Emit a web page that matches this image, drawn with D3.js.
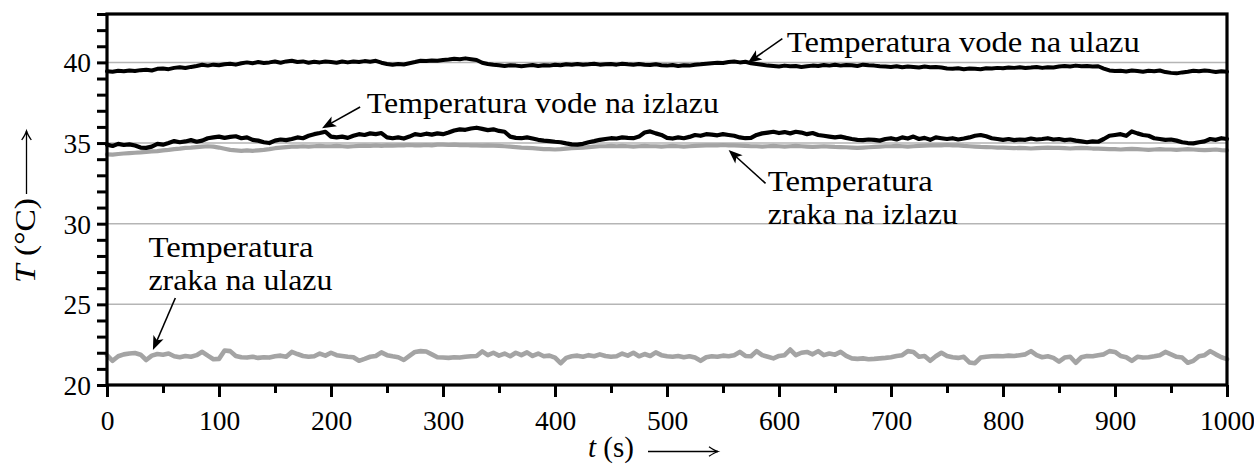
<!DOCTYPE html>
<html>
<head>
<meta charset="utf-8">
<script src="https://cdn.jsdelivr.net/npm/d3@7"></script>
<style>
  body { margin: 0; background: #fff; }
  svg { display: block; }
  text { font-family: "Liberation Serif", "DejaVu Serif", serif; fill: #000; }
</style>
</head>
<body>
<svg id="chart" width="1254" height="464"></svg>
<script>
// Samples every 5 s from 0 s to 1000 s (201 readings per series), in °C.
const sampleStep = 5;

// Water temperature at the inlet
const waterIn = [
  39.45, 39.42, 39.48, 39.45, 39.50, 39.47, 39.52, 39.55, 39.50, 39.60,
  39.62, 39.58, 39.66, 39.70, 39.65, 39.72, 39.78, 39.85, 39.80, 39.86,
  39.82, 39.88, 39.92, 39.86, 39.95, 40.00, 39.95, 40.02, 39.96, 40.00,
  40.05, 39.98, 40.06, 40.10, 40.02, 40.06, 39.98, 40.04, 40.00, 40.05,
  40.02, 39.98, 40.05, 40.00, 40.06, 40.02, 40.08, 40.04, 40.10, 39.98,
  39.90, 39.85, 39.90, 39.87, 39.95, 40.02, 40.10, 40.08, 40.12, 40.10,
  40.15, 40.18, 40.22, 40.20, 40.25, 40.20, 40.15, 39.98, 39.90, 39.85,
  39.82, 39.78, 39.82, 39.80, 39.76, 39.80, 39.84, 39.78, 39.82, 39.80,
  39.85, 39.82, 39.88, 39.86, 39.90, 39.85, 39.88, 39.92, 39.86, 39.88,
  39.90, 39.86, 39.92, 39.88, 39.85, 39.90, 39.86, 39.84, 39.88, 39.82,
  39.80, 39.84, 39.78, 39.82, 39.80, 39.85, 39.88, 39.92, 39.95, 39.98,
  39.96, 40.02, 40.05, 40.00, 40.04, 39.95, 39.90, 39.85, 39.80, 39.78,
  39.75, 39.80, 39.76, 39.78, 39.72, 39.76, 39.80, 39.78, 39.84, 39.80,
  39.85, 39.80, 39.84, 39.82, 39.78, 39.86, 39.82, 39.80, 39.76, 39.74,
  39.72, 39.76, 39.70, 39.74, 39.72, 39.68, 39.74, 39.70, 39.72, 39.68,
  39.62, 39.60, 39.64, 39.58, 39.62, 39.60, 39.58, 39.64, 39.62, 39.66,
  39.64, 39.68, 39.66, 39.70, 39.65, 39.68, 39.72, 39.66, 39.70, 39.68,
  39.74, 39.78, 39.75, 39.80, 39.76, 39.78, 39.74, 39.76, 39.62, 39.50,
  39.46, 39.48, 39.44, 39.50, 39.46, 39.42, 39.48, 39.45, 39.50, 39.40,
  39.35, 39.32, 39.38, 39.42, 39.48, 39.45, 39.50, 39.46, 39.40, 39.45,
  39.42
];

// Water temperature at the outlet
const waterOut = [
  34.90, 34.82, 34.95, 34.88, 34.92, 34.85, 34.72, 34.70, 34.78, 34.95,
  34.90, 35.00, 35.12, 35.05, 35.10, 35.18, 35.08, 35.15, 35.30, 35.35,
  35.40, 35.32, 35.38, 35.42, 35.30, 35.35, 35.20, 35.15, 35.05, 35.00,
  35.15, 35.22, 35.18, 35.25, 35.35, 35.30, 35.45, 35.55, 35.62, 35.70,
  35.40, 35.35, 35.40, 35.32, 35.45, 35.55, 35.50, 35.60, 35.55, 35.62,
  35.35, 35.30, 35.35, 35.28, 35.40, 35.55, 35.50, 35.58, 35.52, 35.60,
  35.55, 35.65, 35.78, 35.85, 35.82, 35.90, 35.95, 35.88, 35.80, 35.85,
  35.75, 35.70, 35.40, 35.32, 35.30, 35.35, 35.28, 35.20, 35.15, 35.12,
  35.08, 35.05, 34.98, 34.92, 34.90, 34.95, 35.05, 35.12, 35.20, 35.25,
  35.30, 35.28, 35.35, 35.32, 35.30, 35.40, 35.65, 35.72, 35.60, 35.50,
  35.32, 35.28, 35.35, 35.30, 35.38, 35.50, 35.45, 35.55, 35.52, 35.48,
  35.55, 35.50, 35.45, 35.35, 35.30, 35.32, 35.50, 35.60, 35.65, 35.70,
  35.62, 35.68, 35.60, 35.70, 35.65, 35.55, 35.62, 35.50, 35.45, 35.40,
  35.35, 35.40, 35.32, 35.25, 35.20, 35.18, 35.22, 35.20, 35.15, 35.25,
  35.30, 35.22, 35.35, 35.28, 35.40, 35.25, 35.32, 35.20, 35.35, 35.30,
  35.25, 35.30, 35.22, 35.28, 35.35, 35.45, 35.50, 35.42, 35.30, 35.25,
  35.20, 35.25, 35.18, 35.22, 35.20, 35.28, 35.22, 35.25, 35.30, 35.22,
  35.25, 35.18, 35.22, 35.15, 35.10, 35.05, 35.10, 35.08, 35.25, 35.45,
  35.50, 35.55, 35.45, 35.72, 35.60, 35.50, 35.45, 35.30, 35.25, 35.20,
  35.22, 35.15, 35.05, 35.00, 34.98, 35.05, 35.10, 35.25, 35.20, 35.30,
  35.25
];

// Air temperature at the outlet
const airOut = [
  34.30, 34.28, 34.32, 34.35, 34.38, 34.40, 34.42, 34.45, 34.48, 34.50,
  34.55, 34.58, 34.62, 34.65, 34.70, 34.72, 34.75, 34.78, 34.80, 34.78,
  34.72, 34.65, 34.58, 34.55, 34.52, 34.55, 34.52, 34.55, 34.58, 34.62,
  34.68, 34.72, 34.75, 34.78, 34.78, 34.80, 34.78, 34.80, 34.82, 34.80,
  34.80, 34.82, 34.80, 34.78, 34.80, 34.82, 34.84, 34.82, 34.85, 34.83,
  34.85, 34.84, 34.86, 34.85, 34.88, 34.86, 34.85, 34.88, 34.86, 34.90,
  34.90, 34.88, 34.90, 34.87, 34.88, 34.86, 34.85, 34.84, 34.86, 34.84,
  34.82, 34.80, 34.78, 34.75, 34.72, 34.70, 34.68, 34.65, 34.62, 34.62,
  34.60, 34.62, 34.65, 34.68, 34.70, 34.72, 34.75, 34.78, 34.80, 34.80,
  34.82, 34.80, 34.82, 34.80, 34.78, 34.80, 34.82, 34.80, 34.80, 34.78,
  34.80, 34.82, 34.80, 34.78, 34.80, 34.82, 34.84, 34.86, 34.85, 34.86,
  34.88, 34.86, 34.85, 34.84, 34.82, 34.80, 34.80, 34.78, 34.80, 34.82,
  34.80, 34.78, 34.80, 34.82, 34.80, 34.78, 34.76, 34.78, 34.80, 34.78,
  34.76, 34.75, 34.74, 34.72, 34.70, 34.72, 34.74, 34.76, 34.78, 34.80,
  34.80, 34.82, 34.80, 34.78, 34.80, 34.82, 34.84, 34.85, 34.86, 34.85,
  34.88, 34.86, 34.85, 34.82, 34.80, 34.78, 34.76, 34.75, 34.74, 34.72,
  34.72, 34.70, 34.68, 34.70, 34.68, 34.66, 34.68, 34.70, 34.72, 34.70,
  34.70, 34.68, 34.66, 34.68, 34.70, 34.68, 34.66, 34.65, 34.64, 34.62,
  34.62, 34.60, 34.62, 34.64, 34.62, 34.60, 34.58, 34.60, 34.62, 34.60,
  34.60, 34.58, 34.60, 34.62, 34.60, 34.58, 34.56, 34.58, 34.60, 34.56,
  34.55
];

// Air temperature at the inlet
const airIn = [
  21.85, 21.50, 21.78, 21.90, 21.95, 21.98, 21.88, 21.55, 21.82, 21.92,
  21.88, 21.95, 21.78, 21.72, 21.80, 21.75, 21.85, 22.06, 21.82, 21.60,
  21.62, 22.14, 22.10, 21.80, 21.72, 21.70, 21.75, 21.68, 21.72, 21.70,
  21.78, 21.82, 21.75, 22.05, 21.92, 21.80, 21.75, 21.78, 21.95, 21.82,
  22.00, 21.85, 21.80, 21.75, 21.72, 21.50, 21.62, 21.75, 21.80, 22.02,
  21.85, 21.78, 21.72, 21.55, 21.80, 22.05, 22.10, 22.08, 21.90, 21.72,
  21.70, 21.68, 21.72, 21.70, 21.75, 21.78, 21.80, 22.08, 21.85, 22.00,
  21.82, 21.95, 21.78, 22.00, 21.85, 22.02, 21.80, 21.95, 21.78, 21.82,
  21.70, 21.35, 21.68, 21.78, 21.82, 21.75, 21.85, 21.78, 21.90, 21.80,
  21.75, 21.78, 21.95, 21.82, 22.00, 21.78, 21.92, 21.80, 22.02, 21.85,
  21.78, 21.75, 21.80, 21.72, 21.78, 21.70, 21.50, 21.72, 21.78, 21.75,
  21.82, 21.78, 21.85, 22.05, 21.80, 21.78, 22.10, 21.85, 21.75, 21.65,
  21.80, 21.85, 22.20, 21.85, 22.00, 22.05, 21.90, 22.10, 21.85, 21.95,
  21.88, 22.05, 21.80, 21.65, 21.62, 21.65, 21.60, 21.62, 21.65, 21.68,
  21.72, 21.80, 21.85, 22.10, 22.05, 21.75, 21.80, 21.50, 21.78, 22.00,
  21.80, 21.72, 21.68, 21.75, 21.40, 21.35, 21.70, 21.75, 21.78, 21.80,
  21.78, 21.82, 21.80, 21.85, 21.90, 22.10, 21.85, 21.72, 21.78, 21.68,
  21.45, 21.70, 21.75, 21.38, 21.72, 21.80, 21.78, 21.85, 21.90, 22.10,
  22.05, 21.80, 21.72, 21.50, 21.75, 21.70, 21.72, 21.78, 21.85, 22.05,
  21.90, 21.75, 21.70, 21.38, 21.50, 21.78, 21.85, 22.10, 21.90, 21.72,
  21.60
];

// Axis ticks
const xTickLabels = [0, 100, 200, 300, 400, 500, 600, 700, 800, 900, 1000];
const xMinorTicks = [50, 150, 250, 350, 450, 550, 650, 750, 850, 950];
const yTickLabels = [20, 25, 30, 35, 40];
const yMinorTicks = [21, 22, 23, 24, 26, 27, 28, 29, 31, 32, 33, 34, 36, 37, 38, 39, 41, 42, 43];
const gridValues = [25, 30, 35, 40];

// Callouts: arrow tip / tail in data units, text lines anchored at (t, T)
const callouts = [
  { tip: [572, 39.97], tail: [603, 41.47], at: [607, 40.64], lines: ["Temperatura vode na ulazu"], widths: [353] },
  { tip: [192, 35.92], tail: [226, 37.23], at: [232, 36.86], lines: ["Temperatura vode na izlazu"], widths: [352] },
  { tip: [555, 34.57], tail: [588, 32.50], at: [590, 32.03], lines: ["Temperatura", "zraka na izlazu"], widths: [165, 190] },
  { tip: [41, 22.17], tail: [61, 25.39], at: [37, 27.94], lines: ["Temperatura", "zraka na ulazu"], widths: [165, 184] }
];

const FONT = "'Liberation Serif', 'DejaVu Serif', serif";
const W = 1254, H = 464;
const margin = { top: 14, right: 27, bottom: 79, left: 107 };
const svg = d3.select("#chart");

const x = d3.scaleLinear().domain([0, 1000]).range([margin.left, W - margin.right]);
const y = d3.scaleLinear().domain([20, 43]).range([H - margin.bottom, margin.top]);

// Horizontal grid
svg.append("g")
  .selectAll("line")
  .data(gridValues)
  .join("line")
  .attr("x1", x(0)).attr("x2", x(1000))
  .attr("y1", d => y(d)).attr("y2", d => y(d))
  .attr("stroke", "#b5b5b5")
  .attr("stroke-width", 1.5);

// Temperature traces
const line = d3.line()
  .x((d, i) => x(i * sampleStep))
  .y(d => y(d));

const series = [
  { values: airIn, color: "#a4a4a4", width: 4.6 },
  { values: airOut, color: "#a4a4a4", width: 4.2 },
  { values: waterOut, color: "#000", width: 4.2 },
  { values: waterIn, color: "#000", width: 4 }
];

svg.append("g")
  .selectAll("path")
  .data(series)
  .join("path")
  .attr("d", d => line(d.values))
  .attr("fill", "none")
  .attr("stroke", d => d.color)
  .attr("stroke-width", d => d.width)
  .attr("stroke-linejoin", "round")
  .attr("stroke-linecap", "round");

// Frame
svg.append("rect")
  .attr("x", x(0)).attr("y", y(43))
  .attr("width", x(1000) - x(0))
  .attr("height", y(20) - y(43))
  .attr("fill", "none")
  .attr("stroke", "#000")
  .attr("stroke-width", 3.2);

// Y axis
const yAxisG = svg.append("g")
  .attr("transform", `translate(${x(0)},0)`)
  .call(d3.axisLeft(y)
    .tickValues(yTickLabels.concat(yMinorTicks))
    .tickSize(10)
    .tickPadding(6)
    .tickFormat(d => yTickLabels.includes(d) ? d : ""));
yAxisG.attr("font-family", FONT);
yAxisG.select(".domain").remove();
yAxisG.selectAll(".tick line").attr("stroke-width", 3);
yAxisG.selectAll(".tick text")
  .attr("font-size", 27.5)
  .attr("dy", "0.34em")
  .style("font-family", FONT);

// X axis: labelled ticks every 100 s, short ticks in between
const xAxisG = svg.append("g")
  .attr("transform", `translate(0,${y(20)})`)
  .call(d3.axisBottom(x)
    .tickValues(xTickLabels)
    .tickSize(12)
    .tickFormat(d3.format("d")));
xAxisG.attr("font-family", FONT);
xAxisG.select(".domain").remove();
xAxisG.selectAll(".tick line").attr("stroke-width", 3);
xAxisG.selectAll(".tick text")
  .attr("font-size", 27.5)
  .attr("y", 45)
  .attr("dy", 0)
  .style("font-family", FONT);

const xMinorG = svg.append("g")
  .attr("transform", `translate(0,${y(20)})`)
  .call(d3.axisBottom(x).tickValues(xMinorTicks).tickSize(8).tickFormat(""));
xMinorG.select(".domain").remove();
xMinorG.selectAll(".tick line").attr("stroke-width", 3);

// Open long arrow used next to axis titles
function longArrow(g, x1, y1, x2, y2) {
  g.append("line")
    .attr("x1", x1).attr("y1", y1).attr("x2", x2).attr("y2", y2)
    .attr("stroke", "#000").attr("stroke-width", 1.3);
  const ang = Math.atan2(y2 - y1, x2 - x1) * 180 / Math.PI;
  g.append("path")
    .attr("d", "M-9,-4.8 Q-3.5,-1 0,0 Q-3.5,1 -9,4.8")
    .attr("fill", "none")
    .attr("stroke", "#000")
    .attr("stroke-width", 1.3)
    .attr("transform", `translate(${x2},${y2}) rotate(${ang})`);
}

// X axis title
const xt = svg.append("text")
  .attr("x", 588).attr("y", 457)
  .attr("font-size", 29)
  .style("font-family", FONT);
xt.append("tspan").attr("font-style", "italic").text("t");
xt.append("tspan").text(" (s)");
longArrow(svg.append("g"), 648, 451.5, 718, 451.5);

// Y axis title
const yt = svg.append("text")
  .attr("transform", "translate(35,283) rotate(-90)")
  .attr("font-size", 29)
  .attr("textLength", 85)
  .attr("lengthAdjust", "spacingAndGlyphs")
  .style("font-family", FONT);
yt.append("tspan").attr("font-style", "italic").text("T");
yt.append("tspan").text(" (°C)");
longArrow(svg.append("g"), 26.5, 194, 26.5, 131);

// Callouts
const cg = svg.append("g");
callouts.forEach(c => {
  const [tx, ty] = [x(c.tip[0]), y(c.tip[1])];
  const [sx, sy] = [x(c.tail[0]), y(c.tail[1])];
  const dx = tx - sx, dy = ty - sy, len = Math.hypot(dx, dy);
  const ux = dx / len, uy = dy / len;
  cg.append("line")
    .attr("x1", sx).attr("y1", sy)
    .attr("x2", tx - ux * 9).attr("y2", ty - uy * 9)
    .attr("stroke", "#000").attr("stroke-width", 1.6);
  cg.append("path")
    .attr("d", "M0,0 L-14,-5.5 L-10.5,0 L-14,5.5 Z")
    .attr("fill", "#000")
    .attr("transform", `translate(${tx},${ty}) rotate(${Math.atan2(dy, dx) * 180 / Math.PI})`);
  c.lines.forEach((s, i) => {
    cg.append("text")
      .attr("x", x(c.at[0]))
      .attr("y", y(c.at[1]) + i * 33)
      .attr("font-size", 29)
      .attr("textLength", c.widths[i])
      .attr("lengthAdjust", "spacingAndGlyphs")
      .style("font-family", FONT)
      .text(s);
  });
});
</script>
</body>
</html>
